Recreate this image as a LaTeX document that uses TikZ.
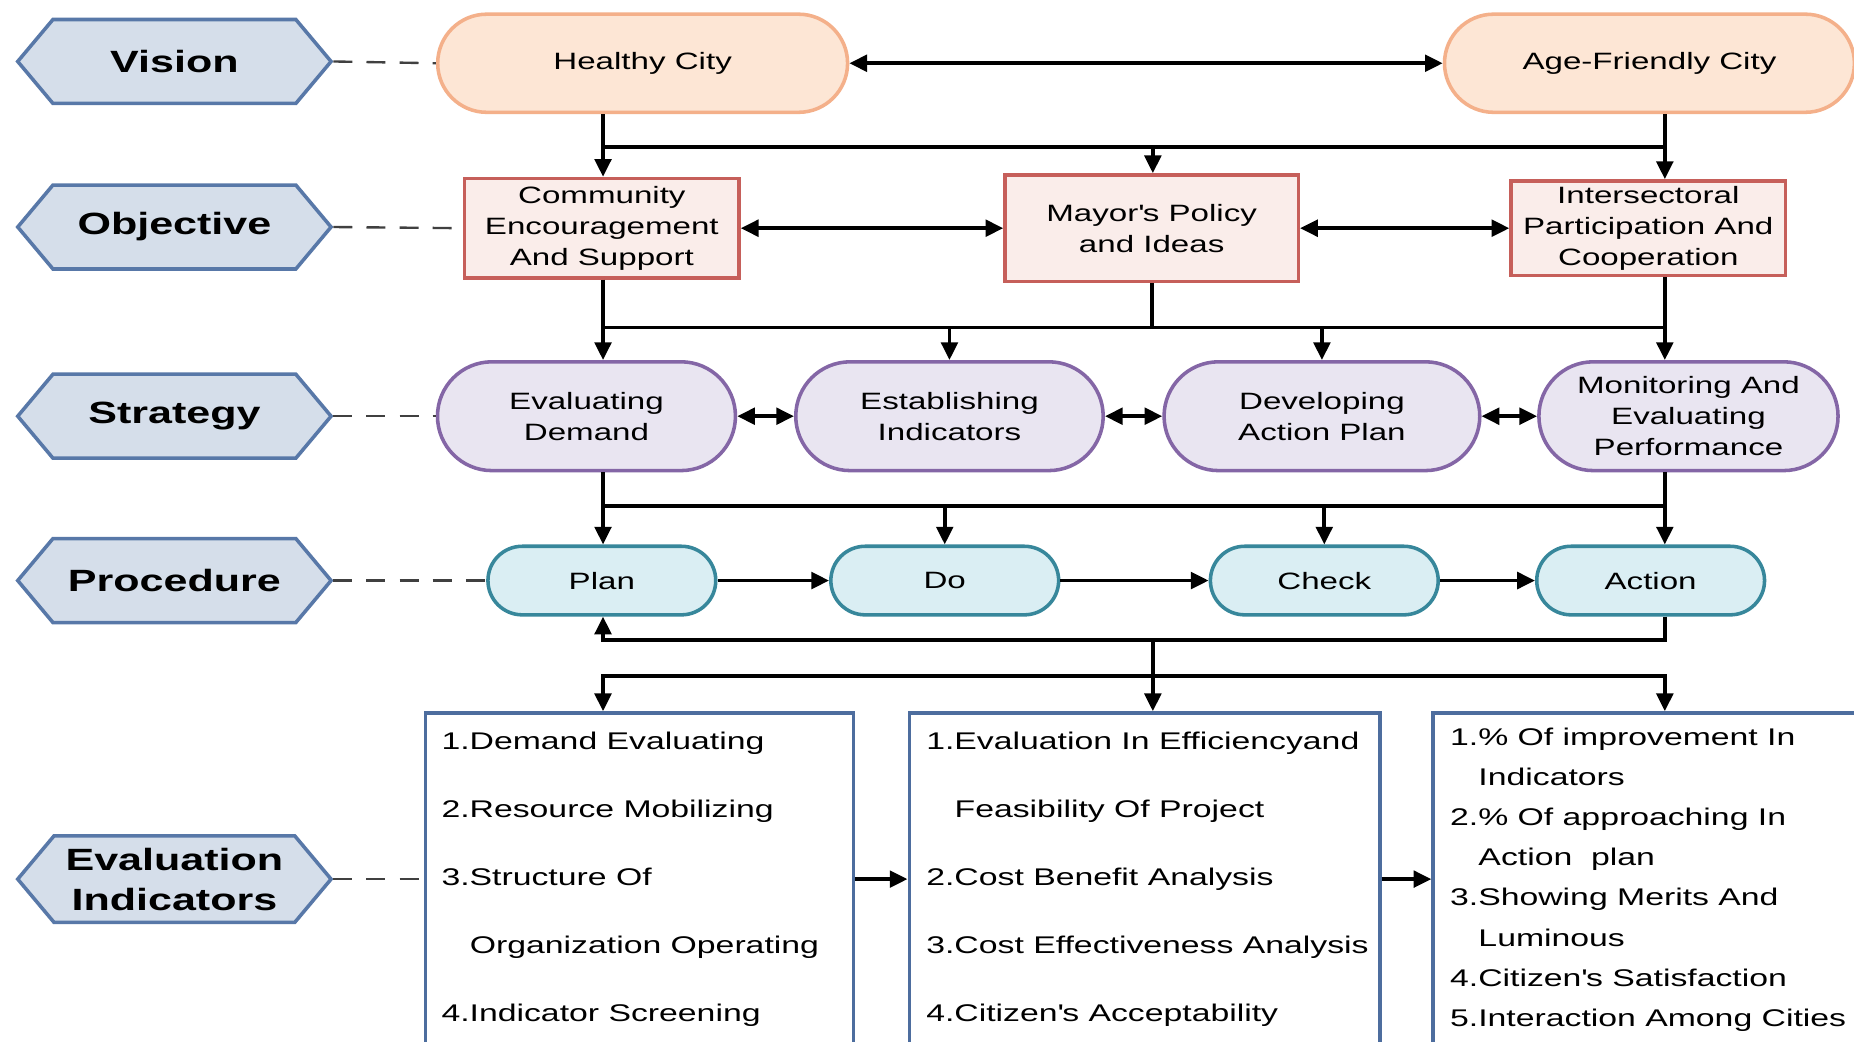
\documentclass[tikz,border=0pt]{standalone}
\usepackage{fontspec}
\setmainfont[FakeStretch=1.4]{Liberation Sans}
\usepackage{xcolor}
\usepackage{tikz}
\usetikzlibrary{arrows.meta}
\usetikzlibrary{calc}
\usetikzlibrary{positioning}
\usetikzlibrary{shapes.misc}
\usetikzlibrary{shapes.symbols}

\definecolor{hexfill}{HTML}{D5DEEA}
\definecolor{hexline}{HTML}{5878A8}
\definecolor{visfill}{HTML}{FDE6D5}
\definecolor{visline}{HTML}{F4B08A}
\definecolor{objfill}{HTML}{FAEDEA}
\definecolor{objline}{HTML}{C65F5A}
\definecolor{strfill}{HTML}{E9E5F1}
\definecolor{strline}{HTML}{8466A6}
\definecolor{profill}{HTML}{DAEEF3}
\definecolor{proline}{HTML}{37879B}
\definecolor{indline}{HTML}{4D6D9E}

\tikzset{
  level/.style={signal, signal to=west and east, signal pointer angle=100,
    draw=hexline, fill=hexfill, line width=1.5pt, inner sep=0pt,
    minimum width=132.5pt, minimum height=35.5pt, align=center,
    font=\fontsize{13}{17}\selectfont\bfseries},
  visionbox/.style={rounded rectangle, draw=visline, fill=visfill,
    line width=1.5pt, minimum width=180pt, minimum height=41.5pt,
    font=\fontsize{10}{13}\selectfont},
  objbox/.style={rectangle, draw=objline, fill=objfill, line width=1.5pt,
    inner sep=1pt, align=center, font=\fontsize{10}{13}\selectfont},
  stratbox/.style={rounded rectangle, draw=strline, fill=strfill,
    line width=1.5pt, inner sep=1pt, minimum height=46pt, align=center,
    font=\fontsize{10}{13}\selectfont},
  procbox/.style={rounded rectangle, draw=proline, fill=profill,
    line width=1.5pt, minimum width=103pt, minimum height=29pt,
    font=\fontsize{10}{13}\selectfont},
  indbox/.style={rectangle, draw=indline, fill=white, line width=1.5pt,
    minimum height=150pt},
  indtext/.style={anchor=north west, inner sep=0pt, align=left},
  conn/.style={line width=1.6pt, -{Triangle[length=7.5pt,width=7pt]}},
  dconn/.style={line width=1.6pt,
    {Triangle[length=7.5pt,width=7pt]}-{Triangle[length=7.5pt,width=7pt]}},
  bus/.style={line width=1.6pt},
  guide/.style={line width=1pt, black!75, dash pattern=on 8pt off 6pt}
}

\begin{document}
\begin{tikzpicture}[x=0.5pt, y=-0.5pt]

  \clip (0, 0) rectangle (1568, 881);
  \fill [white] (0, 0) rectangle (1568, 881);

  % level labels
  \node [level] (vis) at (147.5, 52) {Vision};
  \node [level] (obj) at (147.5, 192) {Objective};
  \node [level] (strat) at (147.5, 352) {Strategy};
  \node [level] (proc) at (147.5, 491) {Procedure};
  \node [level, minimum height=36.5pt] (evi) at (147.5, 743.5)
    {Evaluation\\Indicators};

  % vision
  \node [visionbox] (hc) at (543.5, 53.5) {Healthy City};
  \node [visionbox] (afc) at (1395, 53.5) {Age-Friendly City};

  % objective
  \node [objbox, minimum width=116pt, minimum height=42pt] (cea)
    at (509, 193) {Community\\Encouragement\\And Support};
  \node [objbox, minimum width=124pt, minimum height=45pt] (mpi)
    at (974, 193) {Mayor\textquotesingle s Policy\\and Ideas};
  \node [objbox, minimum width=116pt, minimum height=40pt] (ipc)
    at (1394, 193) {Intersectoral\\Participation And\\Cooperation};

  % strategy
  \node [stratbox, minimum width=128pt] (ed) at (496, 352)
    {Evaluating\\Demand};
  \node [stratbox, minimum width=132pt] (ei) at (803, 352)
    {Establishing\\Indicators};
  \node [stratbox, minimum width=135.5pt] (dap) at (1118, 352)
    {Developing\\Action Plan};
  \node [stratbox, minimum width=128.5pt] (mep) at (1428, 352)
    {Monitoring And\\Evaluating\\Performance};

  % procedure
  \node [procbox] (plan) at (509, 491) {Plan};
  \node [procbox] (do) at (799, 491) {Do};
  \node [procbox] (check) at (1120, 491) {Check};
  \node [procbox] (action) at (1396, 491) {Action};

  % evaluation indicators
  \node [indbox, minimum width=181pt] (indA) at (541, 753) {};
  \node [indbox, minimum width=199pt] (indB) at (968, 753) {};
  \node [indbox, minimum width=184pt] (indC) at (1396, 753) {};

  \node [indtext, font=\fontsize{10.2}{28.75}\selectfont] (indAtxt)
    at (373, 619) {1.Demand Evaluating\\2.Resource Mobilizing\\
    3.Structure Of\\\hspace*{12pt}Organization Operating\\
    4.Indicator Screening};
  \node [indtext, font=\fontsize{10.2}{28.75}\selectfont] (indBtxt)
    at (783, 619) {1.Evaluation In Efficiencyand\\
    \hspace*{12pt}Feasibility Of Project\\2.Cost Benefit Analysis\\
    3.Cost Effectiveness Analysis\\4.Citizen\textquotesingle s Acceptability};
  \node [indtext, font=\fontsize{10.2}{17}\selectfont] (indCtxt)
    at (1226, 615) {1.\% Of improvement In\\\hspace*{12pt}Indicators\\
    2.\% Of approaching In\\\hspace*{12pt}Action\ \ plan\\
    3.Showing Merits And\\\hspace*{12pt}Luminous\\
    4.Citizen\textquotesingle s Satisfaction\\5.Interaction Among Cities};

  % columns and buses
  \coordinate (colL) at (510, 0);
  \coordinate (colM) at (975, 0);
  \coordinate (colR) at (1408, 0);
  \coordinate (busA) at (0, 124);
  \coordinate (busB) at (0, 277);
  \coordinate (busC) at (0, 428);
  \coordinate (busD) at (0, 541);
  \coordinate (busE) at (0, 572);

  % dashed guides
  \draw [guide] (vis.east) -- (hc.west);
  \draw [guide] (obj.east) -- (cea.west);
  \draw [guide] (strat.east) -- (ed.west);
  \draw [guide] (proc.east) -- (plan.west);
  \draw [guide] (evi.east) -- (evi.east -| indA.west);

  % vision to objective
  \draw [dconn] (hc.east) -- (afc.west);
  \draw [conn] (colL |- hc.south) -- (colL |- cea.north);
  \draw [conn] (colR |- afc.south) -- (colR |- ipc.north);
  \draw [bus] (colL |- busA) -- (colR |- busA);
  \draw [conn] (colM |- busA) -- (colM |- mpi.north);

  % objective to strategy
  \draw [dconn] (cea.east) -- (mpi.west);
  \draw [dconn] (mpi.east) -- (ipc.west);
  \draw [conn] (colL |- cea.south) -- (colL |- ed.north);
  \draw [conn] (colR |- ipc.south) -- (colR |- mep.north);
  \draw [bus] (colL |- busB) -- (colR |- busB);
  \draw [bus] (mpi.south) -- (mpi.south |- busB);
  \draw [conn] (ei.north |- busB) -- (ei.north);
  \draw [conn] (dap.north |- busB) -- (dap.north);

  % strategy to procedure
  \draw [dconn] (ed.east) -- (ei.west);
  \draw [dconn] (ei.east) -- (dap.west);
  \draw [dconn] (dap.east) -- (mep.west);
  \draw [conn] (colL |- ed.south) -- (colL |- plan.north);
  \draw [conn] (colR |- mep.south) -- (colR |- action.north);
  \draw [bus] (colL |- busC) -- (colR |- busC);
  \draw [conn] (do.north |- busC) -- (do.north);
  \draw [conn] (check.north |- busC) -- (check.north);

  % procedure cycle
  \draw [conn] (plan.east) -- (do.west);
  \draw [conn] (do.east) -- (check.west);
  \draw [conn] (check.east) -- (action.west);
  \draw [conn] (colR |- action.south) -- (colR |- busD)
    -- (colL |- busD) -- (colL |- plan.south);

  % procedure to indicators
  \draw [conn] (colM |- busD) -- (colM |- indB.north);
  \draw [dconn] (colL |- indA.north) -- (colL |- busE)
    -- (colR |- busE) -- (colR |- indC.north);
  \draw [conn] (indA.east |- evi.east) -- (indB.west |- evi.east);
  \draw [conn] (indB.east |- evi.east) -- (indC.west |- evi.east);

\end{tikzpicture}
\end{document}
